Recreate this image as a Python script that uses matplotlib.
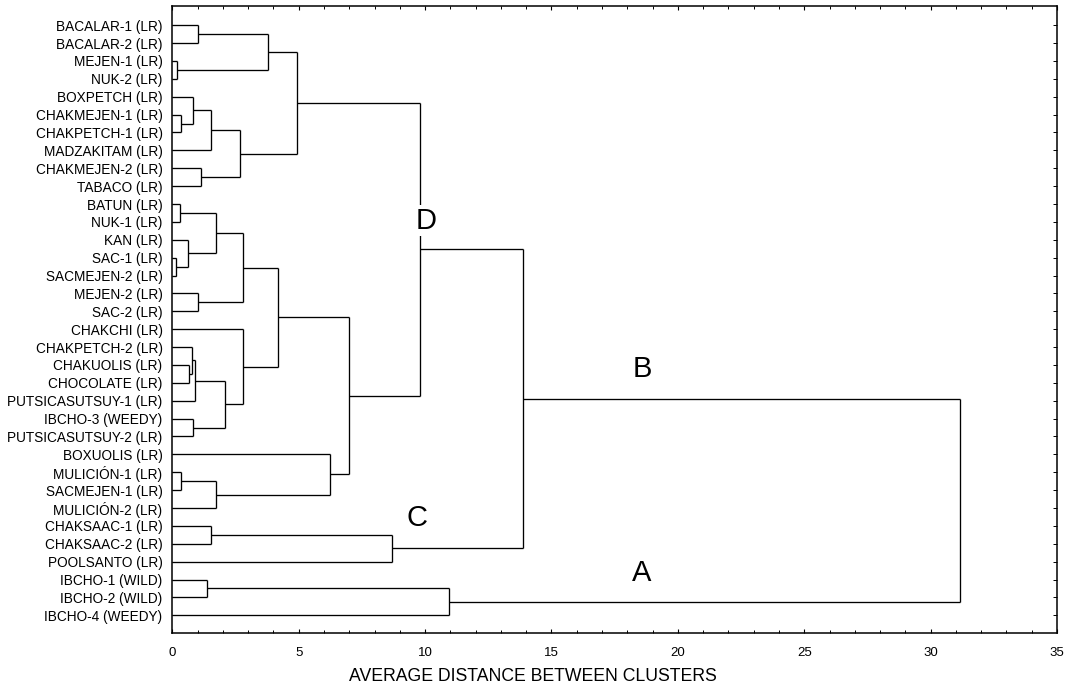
import matplotlib
matplotlib.use("Agg")
import matplotlib.pyplot as plt

plt.rcParams['font.family'] = ['Liberation Sans', 'DejaVu Sans']

# ---------------- data ----------------
leaf_names = [
    "BACALAR-1 (LR)", "BACALAR-2 (LR)", "MEJEN-1 (LR)", "NUK-2 (LR)",
    "BOXPETCH (LR)", "CHAKMEJEN-1 (LR)", "CHAKPETCH-1 (LR)", "MADZAKITAM (LR)",
    "CHAKMEJEN-2 (LR)", "TABACO (LR)", "BATUN (LR)", "NUK-1 (LR)", "KAN (LR)",
    "SAC-1 (LR)", "SACMEJEN-2 (LR)", "MEJEN-2 (LR)", "SAC-2 (LR)",
    "CHAKCHI (LR)", "CHAKPETCH-2 (LR)", "CHAKUOLIS (LR)", "CHOCOLATE (LR)",
    "PUTSICASUTSUY-1 (LR)", "IBCHO-3 (WEEDY)", "PUTSICASUTSUY-2 (LR)",
    "BOXUOLIS (LR)", "MULICIÓN-1 (LR)", "SACMEJEN-1 (LR)", "MULICIÓN-2 (LR)",
    "CHAKSAAC-1 (LR)", "CHAKSAAC-2 (LR)", "POOLSANTO (LR)",
    "IBCHO-1 (WILD)", "IBCHO-2 (WILD)", "IBCHO-4 (WEEDY)",
]

# linkage: node ids 0..33 are leaves, merge k creates node 34+k
merge_left = [2, 13, 10, 5, 25, 12, 19, 18, 4, 22, 41, 0, 15, 8, 31, 42, 28,
              36, 38, 44, 49, 17, 51, 45, 56, 57, 24, 58, 50, 59, 48, 63, 65]
merge_right = [3, 14, 11, 6, 26, 35, 20, 40, 37, 23, 21, 1, 16, 9, 32, 7, 29,
               39, 27, 43, 47, 53, 46, 34, 55, 54, 52, 60, 30, 61, 33, 62, 64]
merge_height = [0.17, 0.16, 0.30, 0.34, 0.36, 0.62, 0.65, 0.78, 0.82, 0.83,
                0.91, 1.00, 1.00, 1.13, 1.38, 1.53, 1.54, 1.71, 1.71, 2.10,
                2.69, 2.78, 2.81, 3.77, 4.19, 4.93, 6.22, 7.00, 8.68, 9.81,
                10.94, 13.87, 31.15]

cluster_labels = ["D", "C", "B", "A"]
cluster_label_x = [10.06, 9.67, 18.59, 18.57]
cluster_label_y = [10.94, 27.54, 19.23, 30.62]

x_ticks = [0, 5, 10, 15, 20, 25, 30, 35]
x_label = "AVERAGE DISTANCE BETWEEN CLUSTERS"

# ---------------- figure ----------------
W, H = 1075, 693
fig = plt.figure(figsize=(W / 100, H / 100), dpi=100)
left, right, top, bottom = 172.3, 1057.0, 6.0, 633.0
ax = fig.add_axes([left / W, 1 - bottom / H, (right - left) / W, (bottom - top) / H])

n = len(leaf_names)
pos = list(range(n))
hgt = [0.0] * n
lw = 0.95
for a, b, h in zip(merge_left, merge_right, merge_height):
    ya, yb = pos[a], pos[b]
    ax.plot([hgt[a], h], [ya, ya], color="black", lw=lw, solid_capstyle="butt")
    ax.plot([hgt[b], h], [yb, yb], color="black", lw=lw, solid_capstyle="butt")
    ax.plot([h, h], [ya, yb], color="black", lw=lw, solid_capstyle="butt")
    pos.append((ya + yb) / 2.0)
    hgt.append(h)

for lab, x, y in zip(cluster_labels, cluster_label_x, cluster_label_y):
    ax.text(x, y, lab, fontsize=21, ha="center", va="center", zorder=5,
            bbox=dict(facecolor="white", edgecolor="none", pad=1.0))

ax.set_xlim(0, 35)
ax.set_ylim(33.99, -1.074)

ax.set_xticks(x_ticks)
ax.set_xticklabels([str(t) for t in x_ticks])
ax.set_xticks(list(range(0, 36)), minor=True)
ax.tick_params(axis="x", which="major", direction="in", top=True, length=3.2,
               width=0.8, labelsize=9.5, pad=10)
ax.tick_params(axis="x", which="minor", direction="in", top=True, length=2.2,
               width=0.7)

ax.set_yticks(list(range(n)))
ax.set_yticklabels(leaf_names)
ax.tick_params(axis="y", direction="in", right=True, length=2.6, width=0.7,
               labelsize=9.8, pad=7)

for s in ax.spines.values():
    s.set_linewidth(1.1)

ax.set_xlabel(x_label, fontsize=12.7)
ax.xaxis.set_label_coords(0.408, -0.0558)

fig.savefig("out.png", dpi=100)
